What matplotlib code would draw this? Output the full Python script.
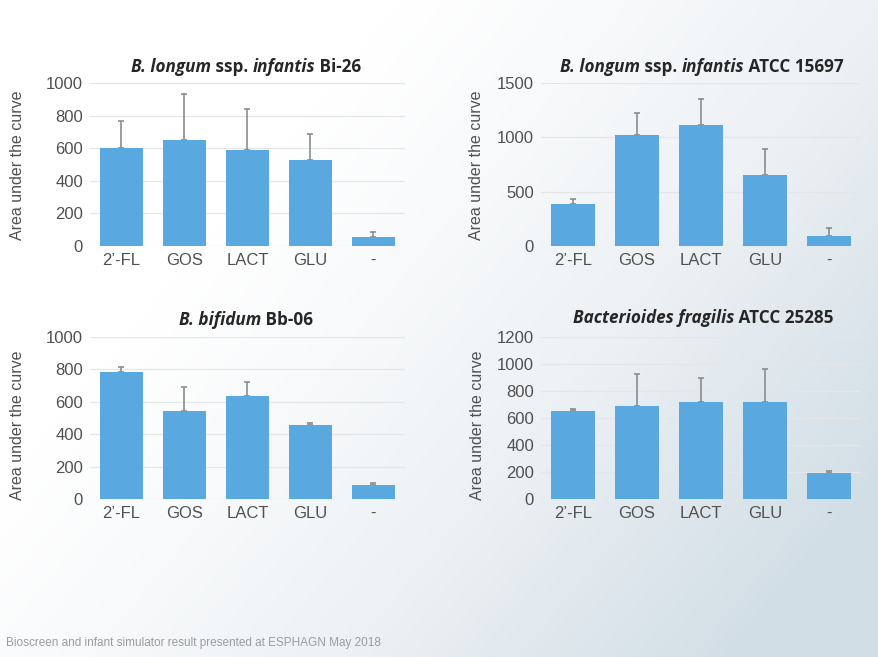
import numpy as np
import matplotlib
matplotlib.use("Agg")
import matplotlib.pyplot as plt
from matplotlib.colors import LinearSegmentedColormap

# ---- data -------------------------------------------------------------
categories = ["2\u2019-FL", "GOS", "LACT", "GLU", "-"]

bi26_auc = [600, 650, 590, 530, 55]
bi26_err = [165, 280, 250, 160, 30]

atcc15697_auc = [385, 1020, 1110, 650, 90]
atcc15697_err = [45, 200, 240, 240, 75]

bb06_auc = [785, 545, 635, 455, 88]
bb06_err = [30, 145, 85, 12, 12]

fragilis_auc = [650, 690, 715, 715, 190]
fragilis_err = [15, 235, 180, 245, 15]

bi26_ticks = [0, 200, 400, 600, 800, 1000]
atcc15697_ticks = [0, 500, 1000, 1500]
bb06_ticks = [0, 200, 400, 600, 800, 1000]
fragilis_ticks = [0, 200, 400, 600, 800, 1000, 1200]

bi26_title = [("B. longum", "italic"), (" ssp. ", "normal"), ("infantis", "italic"), (" Bi-26", "normal")]
atcc15697_title = [("B. longum", "italic"), (" ssp. ", "normal"), ("infantis", "italic"), (" ATCC 15697", "normal")]
bb06_title = [("B. bifidum", "italic"), (" Bb-06", "normal")]
fragilis_title = [("Bacterioides fragilis", "italic"), (" ATCC 25285", "normal")]

ylabel = "Area under the curve"
footer = "Bioscreen and infant simulator result presented at ESPHAGN May 2018"

# ---- style ------------------------------------------------------------
BAR = "#5aa8e0"
ERR = "#8c8c8c"
TXT = "#505050"
GRID = "#e4e6e8"
TICK_FONT = ["Liberation Sans", "DejaVu Sans"]
TITLE_FONT = ["Open Sans", "DejaVu Sans"]

W, H, DPI = 879, 657, 100
fig = plt.figure(figsize=(W / DPI, H / DPI), dpi=DPI)

# soft diagonal background wash
bg = fig.add_axes([0, 0, 1, 1], zorder=-10)
gx, gy = np.meshgrid(np.linspace(0, 1, 300), np.linspace(0, 1, 300))
t = np.clip((0.62 * gx + 0.38 * gy - 0.28) / 0.62, 0, 1) ** 1.1
cmap = LinearSegmentedColormap.from_list("wash", ["#ffffff", "#eef2f5", "#d2dee6"])
bg.imshow(t, cmap=cmap, aspect="auto", extent=[0, 1, 0, 1], origin="upper", vmin=0, vmax=1)
bg.set_axis_off()

panels = [
    dict(rect=[90 / W, 1 - 246 / H, 315 / W, 163 / H], auc=bi26_auc, err=bi26_err,
         ticks=bi26_ticks, title=bi26_title, tpos=(246, 67), ylab=(18, 165)),
    dict(rect=[541 / W, 1 - 246 / H, 320 / W, 163 / H], auc=atcc15697_auc, err=atcc15697_err,
         ticks=atcc15697_ticks, title=atcc15697_title, tpos=(702, 67), ylab=(477, 165)),
    dict(rect=[90 / W, 1 - 499 / H, 315 / W, 162 / H], auc=bb06_auc, err=bb06_err,
         ticks=bb06_ticks, title=bb06_title, tpos=(246, 320), ylab=(18, 425)),
    dict(rect=[541 / W, 1 - 499 / H, 320 / W, 162 / H], auc=fragilis_auc, err=fragilis_err,
         ticks=fragilis_ticks, title=fragilis_title, tpos=(703, 318), ylab=(478, 425)),
]

title_texts = []
for p in panels:
    ax = fig.add_axes(p["rect"])
    ax.patch.set_alpha(0)
    x = np.arange(len(categories))
    zeros = np.zeros(len(categories))
    ax.bar(x, p["auc"], width=0.68, color=BAR, zorder=3,
           yerr=[zeros, p["err"]], error_kw=dict(ecolor=ERR, elinewidth=1.2, capsize=2.5,
                                                 capthick=1.2, zorder=2))
    ax.set_xlim(-0.5, len(categories) - 0.5)
    ax.set_ylim(p["ticks"][0], p["ticks"][-1])
    ax.set_yticks(p["ticks"])
    ax.set_xticks(x)
    ax.set_xticklabels(categories)
    for lab in ax.get_xticklabels() + ax.get_yticklabels():
        lab.set_fontfamily(TICK_FONT)
        lab.set_fontsize(12)
        lab.set_color(TXT)
    ax.tick_params(length=0, pad=5)
    ax.grid(axis="y", color=GRID, linewidth=0.9, zorder=0)
    ax.set_axisbelow(True)
    for s in ax.spines.values():
        s.set_visible(False)

    fig.text(p["ylab"][0] / W, 1 - p["ylab"][1] / H, ylabel, rotation=90,
             ha="center", va="center", fontsize=11.5, color=TXT, family=TICK_FONT)

    pieces = []
    for txt, style in p["title"]:
        pieces.append(fig.text(0, 1 - p["tpos"][1] / H, txt, fontsize=12.3, fontweight="bold",
                               fontstyle=style, family=TITLE_FONT, color="#262626",
                               ha="left", va="center"))
    title_texts.append((pieces, p["tpos"][0]))

fig.text(6 / W, 1 - 643 / H, footer, fontsize=8.5, color="#9c9c9c",
         family=["Liberation Sans", "DejaVu Sans"], ha="left", va="center")

# lay out mixed-style titles centred on their panels
fig.canvas.draw()
renderer = fig.canvas.get_renderer()
for pieces, cx in title_texts:
    widths = [pc.get_window_extent(renderer).width for pc in pieces]
    x0 = cx - sum(widths) / 2
    for pc, w in zip(pieces, widths):
        pc.set_x(x0 / W)
        x0 += w

fig.savefig("out.png", dpi=DPI)
